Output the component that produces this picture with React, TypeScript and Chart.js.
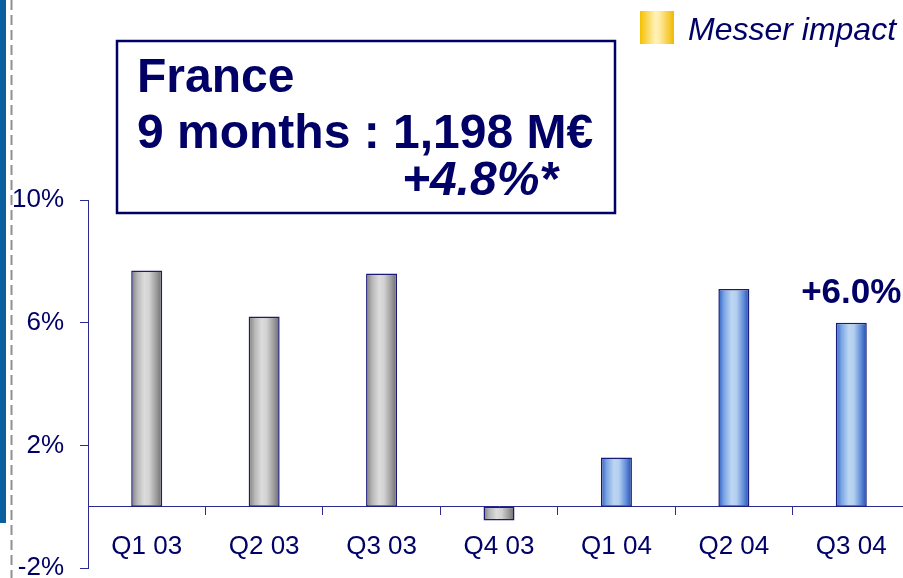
import React, { useEffect, useRef } from 'react';
import { Chart, registerables } from 'chart.js';

Chart.register(...registerables);

// ---- data ----
const categories = ['Q1 03', 'Q2 03', 'Q3 03', 'Q4 03', 'Q1 04', 'Q2 04', 'Q3 04'];
const growthPct = [7.7, 6.2, 7.6, -0.45, 1.6, 7.1, 6.0];
const barYear = ['2003', '2003', '2003', '2003', '2004', '2004', '2004'];
const yMin = -2;
const yMax = 10;
const yStep = 4;
const highlightIndex = 6;
const highlightLabel = '+6.0%';
const titleLines = ['France', '9 months : 1,198 M€', '+4.8%*'];
const legendLabel = 'Messer impact';

// ---- styles ----
const FONT = '"Liberation Sans", Arial, Helvetica, sans-serif';
const NAVY = '#000066';
const AXIS = '#2a2a90';
const BAR_BORDER = '#1a1a7a';
const BAR_PCT = 0.264;

function barGradient(chart: any, dataIndex: number) {
  const xs = chart.scales && chart.scales.x;
  const isBlue = barYear[dataIndex] === '2004';
  if (!xs || !chart.chartArea) return isBlue ? '#6f9be0' : '#b0b0b0';
  const cx = xs.getPixelForValue(dataIndex);
  const half = ((xs.right - xs.left) / categories.length) * BAR_PCT / 2;
  const g = chart.ctx.createLinearGradient(cx - half, 0, cx + half, 0);
  if (isBlue) {
    g.addColorStop(0, '#2d5ec4');
    g.addColorStop(0.18, '#7aa4e4');
    g.addColorStop(0.42, '#bcd6f2');
    g.addColorStop(0.58, '#b4d0f0');
    g.addColorStop(0.82, '#5f8ad8');
    g.addColorStop(1, '#1c4cb0');
  } else {
    g.addColorStop(0, '#7c7c7c');
    g.addColorStop(0.2, '#b8b8b8');
    g.addColorStop(0.42, '#dcdcdc');
    g.addColorStop(0.58, '#d2d2d2');
    g.addColorStop(0.82, '#9a9a9a');
    g.addColorStop(1, '#6a6a6a');
  }
  return g;
}

const decorPlugin = {
  id: 'decor',
  beforeDraw(chart: any) {
    const ctx = chart.ctx;
    ctx.save();
    ctx.fillStyle = '#ffffff';
    ctx.fillRect(0, 0, chart.width, chart.height);
    // left blue band
    ctx.fillStyle = '#0a5f9e';
    ctx.fillRect(0, 0, 6, 523);
    // dashed grey line
    ctx.strokeStyle = '#909090';
    ctx.lineWidth = 2;
    ctx.setLineDash([10, 5]);
    ctx.beginPath();
    ctx.moveTo(11.5, 0);
    ctx.lineTo(11.5, chart.height);
    ctx.stroke();
    ctx.setLineDash([]);
    ctx.restore();
  },
  afterDraw(chart: any) {
    const ctx = chart.ctx;
    ctx.save();
    // title box
    ctx.strokeStyle = NAVY;
    ctx.lineWidth = 2.5;
    ctx.strokeRect(117, 41, 498, 172);
    ctx.fillStyle = NAVY;
    ctx.textBaseline = 'alphabetic';
    ctx.textAlign = 'left';
    ctx.font = `bold 48px ${FONT}`;
    ctx.fillText(titleLines[0], 137, 92);
    ctx.fillText(titleLines[1], 137, 148);
    ctx.font = `italic bold 48px ${FONT}`;
    ctx.textAlign = 'right';
    ctx.fillText(titleLines[2], 558, 195);

    // legend
    const lg = ctx.createLinearGradient(640, 0, 674, 0);
    lg.addColorStop(0, '#f5c000');
    lg.addColorStop(0.45, '#fff2b8');
    lg.addColorStop(0.55, '#ffeeaa');
    lg.addColorStop(1, '#f2b800');
    ctx.fillStyle = lg;
    ctx.fillRect(640, 11, 34, 33);
    ctx.fillStyle = NAVY;
    ctx.textAlign = 'left';
    ctx.font = `italic 32px ${FONT}`;
    ctx.fillText(legendLabel, 688, 40);

    // highlight label above last bar
    const el = chart.getDatasetMeta(0).data[highlightIndex];
    if (el) {
      ctx.font = `bold 35px ${FONT}`;
      ctx.textAlign = 'center';
      ctx.fillText(highlightLabel, el.x, el.y - 20);
    }
    ctx.restore();
  },
};

export default function App() {
  const ref = useRef<HTMLCanvasElement | null>(null);

  useEffect(() => {
    if (!ref.current) return;
    const chart = new Chart(ref.current, {
      type: 'bar',
      data: {
        labels: categories,
        datasets: [
          {
            data: growthPct,
            backgroundColor: (c: any) => barGradient(c.chart, c.dataIndex),
            borderColor: BAR_BORDER,
            borderWidth: 1.5,
            borderSkipped: false,
            barPercentage: BAR_PCT,
            categoryPercentage: 1,
          },
        ],
      },
      options: {
        responsive: false,
        animation: false,
        devicePixelRatio: 1,
        layout: { padding: { top: 200, bottom: 10, left: 0, right: 10 } },
        plugins: { legend: { display: false }, tooltip: { enabled: false } },
        scales: {
          x: {
            position: { y: 0 } as any,
            offset: true,
            grid: { drawOnChartArea: false, offset: true, color: AXIS, tickLength: 8, lineWidth: 1 },
            border: { color: AXIS, width: 1 },
            ticks: { color: NAVY, font: { family: FONT, size: 26 }, padding: 17, autoSkip: false, maxRotation: 0 },
            afterFit: (s: any) => {
              s.paddingLeft = 0;
              s.paddingRight = 0;
            },
          },
          y: {
            min: yMin,
            max: yMax,
            grid: { drawOnChartArea: false, color: AXIS, tickLength: 8, lineWidth: 1 },
            border: { color: AXIS, width: 1 },
            ticks: {
              stepSize: yStep,
              color: NAVY,
              font: { family: FONT, size: 26 },
              padding: 16,
              callback: (v: any) => `${v}%`,
            },
            afterFit: (s: any) => {
              s.width = 88;
              s.paddingTop = 0;
              s.paddingBottom = 0;
            },
          },
        },
      },
      plugins: [decorPlugin],
    });
    return () => chart.destroy();
  }, []);

  return (
    <div
      style={{
        position: 'fixed',
        left: 0,
        top: 0,
        width: 903,
        height: 578,
        overflow: 'hidden',
        background: '#fff',
      }}
    >
      <canvas ref={ref} width={920} height={578} style={{ display: 'block', width: 920, height: 578 }} />
    </div>
  );
}
